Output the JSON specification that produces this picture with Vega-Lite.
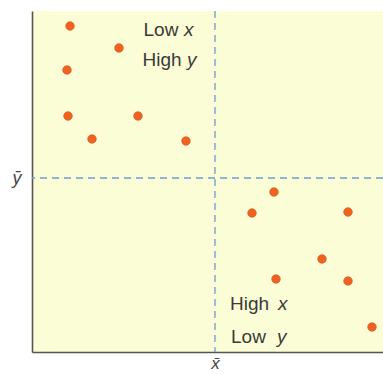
{
  "$schema": "https://vega.github.io/schema/vega-lite/v6.json",
  "width": 351,
  "height": 341,
  "autosize": "none",
  "padding": {"left": 32, "top": 11, "right": 0, "bottom": 22},
  "background": "white",
  "config": {
    "view": {"stroke": null, "fill": "#fafdd5"},
    "font": "Liberation Sans"
  },
  "datasets": {
    "points": [
      {"x": 38, "y": 326},
      {"x": 87, "y": 304},
      {"x": 35, "y": 282},
      {"x": 36, "y": 236},
      {"x": 60, "y": 213},
      {"x": 106, "y": 236},
      {"x": 154, "y": 211},
      {"x": 242, "y": 160},
      {"x": 220, "y": 139},
      {"x": 316, "y": 140},
      {"x": 290, "y": 93},
      {"x": 244, "y": 73},
      {"x": 316, "y": 71},
      {"x": 340, "y": 25}
    ],
    "means": [{"x": 183, "y": 174}],
    "labels": [
      {"x": 111.5, "y": 316.5, "t": "Low", "italic": false},
      {"x": 152, "y": 316.5, "t": "x", "italic": true},
      {"x": 110.5, "y": 286, "t": "High", "italic": false},
      {"x": 155, "y": 286, "t": "y", "italic": true},
      {"x": 198, "y": 42, "t": "High", "italic": false},
      {"x": 246, "y": 42, "t": "x", "italic": true},
      {"x": 199, "y": 9.5, "t": "Low", "italic": false},
      {"x": 245, "y": 9.5, "t": "y", "italic": true}
    ]
  },
  "encoding": {
    "x": {
      "field": "x", "type": "quantitative",
      "scale": {"domain": [0, 351], "nice": false, "zero": false},
      "axis": {
        "values": [183], "labelExpr": "'x̄'", "ticks": false, "grid": false,
        "domainColor": "#555555", "domainWidth": 1.6, "title": null,
        "labelFontStyle": "italic", "labelFontSize": 17, "labelColor": "#444444",
        "labelPadding": 3, "labelFont": "Liberation Sans"
      }
    },
    "y": {
      "field": "y", "type": "quantitative",
      "scale": {"domain": [0, 341], "nice": false, "zero": false},
      "axis": {
        "values": [174], "labelExpr": "'ȳ'", "ticks": false, "grid": false,
        "domainColor": "#555555", "domainWidth": 1.6, "title": null,
        "labelFontStyle": "italic", "labelFontSize": 18, "labelColor": "#444444",
        "labelPadding": 11, "labelFont": "Liberation Sans"
      }
    }
  },
  "layer": [
    {
      "data": {"name": "means"},
      "mark": {"type": "rule", "color": "#6b9fd2", "strokeWidth": 1.3, "strokeDash": [7, 5]},
      "encoding": {"y": null}
    },
    {
      "data": {"name": "means"},
      "mark": {"type": "rule", "color": "#6b9fd2", "strokeWidth": 1.3, "strokeDash": [7, 5]},
      "encoding": {"x": null}
    },
    {
      "data": {"name": "points"},
      "mark": {"type": "point", "filled": true, "size": 75, "color": "#f0621f", "opacity": 1, "stroke": "#d9531a", "strokeWidth": 0.6}
    },
    {
      "data": {"name": "labels"},
      "transform": [{"filter": "!datum.italic"}],
      "mark": {"type": "text", "align": "left", "baseline": "alphabetic", "fontSize": 19, "color": "#3a3a3a"},
      "encoding": {"text": {"field": "t"}}
    },
    {
      "data": {"name": "labels"},
      "transform": [{"filter": "datum.italic"}],
      "mark": {"type": "text", "align": "left", "baseline": "alphabetic", "fontSize": 19, "fontStyle": "italic", "color": "#3a3a3a"},
      "encoding": {"text": {"field": "t"}}
    }
  ]
}
